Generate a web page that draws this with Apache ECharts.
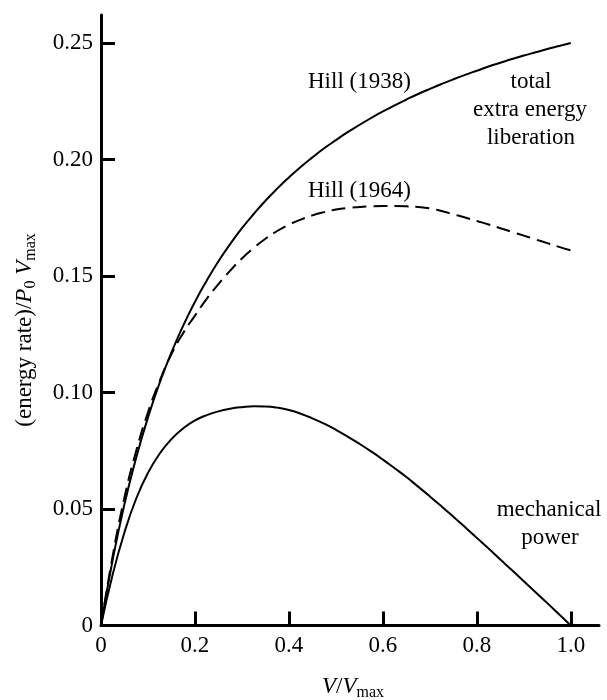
<!DOCTYPE html>
<html>
<head>
<meta charset="utf-8">
<script src="https://cdn.jsdelivr.net/npm/echarts@6/dist/echarts.min.js"></script>
<style>
  html, body { margin: 0; padding: 0; background: #fff; }
  #chart { width: 607px; height: 700px; }
</style>
</head>
<body>
<div id="chart"></div>
<script>
  // V/Vmax sample points
  var speeds = [0, 0.025, 0.05, 0.075, 0.1, 0.125, 0.15, 0.175, 0.2, 0.225, 0.25, 0.275, 0.3, 0.325,
                0.35, 0.375, 0.4, 0.425, 0.45, 0.475, 0.5, 0.525, 0.55, 0.575, 0.6, 0.625, 0.65, 0.675,
                0.7, 0.725, 0.75, 0.775, 0.8, 0.825, 0.85, 0.875, 0.9, 0.925, 0.95, 0.975, 1.0];
  // total extra energy liberation, Hill (1938)
  var hill1938 = [0, 0.0284, 0.0521, 0.0721, 0.0893, 0.1042, 0.1172, 0.1287, 0.1389, 0.1480, 0.1563, 0.1637, 0.1705, 0.1766,
                  0.1823, 0.1875, 0.1923, 0.1968, 0.2009, 0.2048, 0.2083, 0.2117, 0.2148, 0.2178, 0.2206, 0.2232, 0.2257, 0.2281,
                  0.2303, 0.2324, 0.2344, 0.2363, 0.2381, 0.2399, 0.2415, 0.2431, 0.2446, 0.2460, 0.2474, 0.2487, 0.2500];
  // Hill (1964)
  var hill1964 = [0, 0.030, 0.055, 0.075, 0.0915, 0.105, 0.1165, 0.1255, 0.1330, 0.1402, 0.1465, 0.1523, 0.1575, 0.1620,
                  0.1660, 0.1693, 0.1720, 0.1742, 0.1760, 0.1774, 0.1785, 0.1792, 0.1796, 0.1799, 0.1800, 0.1800, 0.1799, 0.1796,
                  0.1790, 0.1779, 0.1765, 0.1751, 0.1736, 0.1721, 0.1705, 0.1689, 0.1673, 0.1657, 0.1641, 0.1625, 0.1610];
  // mechanical power
  var mechPower = [0, 0.022, 0.040, 0.0545, 0.0655, 0.0738, 0.0800, 0.0846, 0.0880, 0.0903, 0.0919, 0.0930, 0.0937, 0.0941,
                   0.0940, 0.0935, 0.0925, 0.0909, 0.0889, 0.0866, 0.0840, 0.0811, 0.0780, 0.0747, 0.0712, 0.0675, 0.0637, 0.0596,
                   0.0554, 0.0511, 0.0467, 0.0422, 0.0376, 0.0330, 0.0283, 0.0237, 0.0190, 0.0143, 0.0096, 0.0048, 0];

  var xTicks = [0, 0.2, 0.4, 0.6, 0.8, 1.0];
  var yTicks = [0, 0.05, 0.10, 0.15, 0.20, 0.25];

  function pairs(ys) {
    return speeds.map(function (v, i) { return [v, ys[i]]; });
  }

  var serif = '"Liberation Serif", "Times New Roman", serif';
  var fs = 23;
  var font = fs + 'px ' + serif;

  function note(text, x, y) {
    return {
      type: 'text', x: x, y: y,
      style: { text: text, align: 'center', verticalAlign: 'middle', font: font, fill: '#000' }
    };
  }

  var rich = {
    n: { fontFamily: serif, fontSize: fs, lineHeight: 28 },
    i: { fontFamily: serif, fontSize: fs, fontStyle: 'italic', lineHeight: 28 },
    s: { fontFamily: serif, fontSize: 16, lineHeight: 16, verticalAlign: 'bottom' }
  };

  var myChart = echarts.init(document.getElementById('chart'));
  var options = {
    animation: false,
    backgroundColor: '#fff',
    grid: {
      left: 101,
      right: 8,
      top: 15,
      bottom: 74.5
    },
    xAxis: {
      type: 'value',
      min: 0,
      max: 1.06,
      splitLine: { show: false },
      axisLine: { lineStyle: { color: '#000', width: 3 } },
      axisTick: {
        inside: true,
        length: 14,
        customValues: xTicks,
        lineStyle: { color: '#000', width: 3 }
      },
      axisLabel: {
        customValues: xTicks,
        margin: 9,
        color: '#000',
        fontFamily: serif,
        fontSize: fs,
        formatter: function (v) {
          if (v === 0) return '0';
          return v.toFixed(1);
        }
      }
    },
    yAxis: {
      type: 'value',
      min: 0,
      max: 0.262,
      splitLine: { show: false },
      axisLine: { lineStyle: { color: '#000', width: 3 } },
      axisTick: {
        inside: true,
        length: 14,
        customValues: yTicks,
        lineStyle: { color: '#000', width: 3 }
      },
      axisLabel: {
        customValues: yTicks,
        margin: 8,
        color: '#000',
        fontFamily: serif,
        fontSize: fs,
        formatter: function (v) {
          if (v === 0) return '0';
          return v.toFixed(2);
        }
      }
    },
    series: [
      {
        name: 'Hill (1938)',
        type: 'line',
        smooth: true,
        symbol: 'none',
        lineStyle: { color: '#000', width: 2 },
        data: pairs(hill1938)
      },
      {
        name: 'Hill (1964)',
        type: 'line',
        smooth: true,
        symbol: 'none',
        lineStyle: { color: '#000', width: 2, type: [14, 7] },
        data: pairs(hill1964)
      },
      {
        name: 'mechanical power',
        type: 'line',
        smooth: true,
        symbol: 'none',
        lineStyle: { color: '#000', width: 2 },
        data: pairs(mechPower)
      }
    ],
    graphic: [
      { type: 'text', x: 308, y: 82, style: { text: 'Hill (1938)', verticalAlign: 'middle', font: font, fill: '#000' } },
      { type: 'text', x: 308, y: 191, style: { text: 'Hill (1964)', verticalAlign: 'middle', font: font, fill: '#000' } },
      note('total', 531, 82),
      note('extra energy', 530, 110),
      note('liberation', 531, 138),
      note('mechanical', 549, 510),
      note('power', 550, 538),
      {
        type: 'text',
        x: 353,
        y: 687,
        style: {
          text: '{i|V}{n|/}{i|V}{s|max}',
          align: 'center',
          verticalAlign: 'middle',
          fill: '#000',
          rich: rich
        }
      },
      {
        type: 'text',
        x: 25,
        y: 330,
        rotation: Math.PI / 2,
        style: {
          text: '{n|(energy rate)/}{i|P}{s|0}{i| V}{s|max}',
          align: 'center',
          verticalAlign: 'middle',
          fill: '#000',
          rich: rich
        }
      }
    ]
  };
  myChart.setOption(options);
</script>
</body>
</html>
